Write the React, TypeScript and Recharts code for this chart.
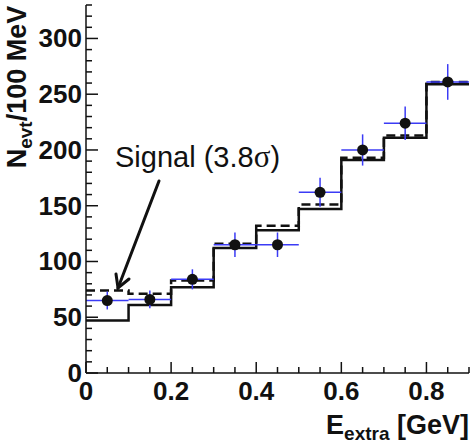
import React from "react";
import { ComposedChart, Line, Scatter, ErrorBar, XAxis, YAxis } from "recharts";

// histogram bins (E_extra, GeV)
const binEdges = [0, 0.1, 0.2, 0.3, 0.4, 0.5, 0.6, 0.7, 0.8, 0.9];
const binCenters = [0.05, 0.15, 0.25, 0.35, 0.45, 0.55, 0.65, 0.75, 0.85];
const binHalfWidth = 0.05;

// expected background (solid) and background + signal (dashed)
const background = [47, 61, 77, 112, 128, 147, 191, 211, 259];
const bgPlusSignal = [74, 71, 83, 116, 132, 151, 193, 213, 261];

// observed events with errors
const dataCounts = [65, 66, 84, 115, 115, 162, 200, 224, 261];
const dataErrors = [8, 8, 9, 11, 11, 13, 14, 15, 16];

const xTicks = [0, 0.05, 0.1, 0.15, 0.2, 0.25, 0.3, 0.35, 0.4, 0.45, 0.5, 0.55, 0.6, 0.65, 0.7, 0.75, 0.8, 0.85, 0.9];
const xTickLabels = [0, 0.2, 0.4, 0.6, 0.8];
const yTicks = [0, 10, 20, 30, 40, 50, 60, 70, 80, 90, 100, 110, 120, 130, 140, 150, 160, 170, 180, 190, 200, 210, 220, 230, 240, 250, 260, 270, 280, 290, 300, 310, 320, 330];
const yTickLabels = [0, 50, 100, 150, 200, 250, 300];

const stepRows = binEdges.map((x, i) => ({
  x,
  bg: background[Math.min(i, background.length - 1)],
  tot: bgPlusSignal[Math.min(i, bgPlusSignal.length - 1)],
}));

const points = binCenters.map((x, i) => ({
  x,
  y: dataCounts[i],
  ex: binHalfWidth,
  ey: dataErrors[i],
}));

const FONT = "'Liberation Sans', Arial, Helvetica, sans-serif";
const INK = "#111";
const BLUE = "#3b3bf5";

const XTick = (props: any) => {
  const { x, y, payload } = props;
  const major = xTickLabels.includes(payload.value);
  return (
    <g>
      <line x1={x} x2={x} y1={y} y2={y - (major ? 11 : 6)} stroke={INK} strokeWidth={1.5} />
      {major && (
        <text x={x} y={y + 27} textAnchor="middle" fontFamily={FONT} fontWeight="bold" fontSize={26} fill={INK}>
          {String(payload.value)}
        </text>
      )}
    </g>
  );
};

const YTick = (props: any) => {
  const { x, y, payload } = props;
  const major = yTickLabels.includes(payload.value);
  return (
    <g>
      <line x1={x} x2={x + (major ? 12 : 6)} y1={y} y2={y} stroke={INK} strokeWidth={1.5} />
      {major && (
        <text x={x - 4} y={y + 9} textAnchor="end" fontFamily={FONT} fontWeight="bold" fontSize={26} fill={INK}>
          {String(payload.value)}
        </text>
      )}
    </g>
  );
};

const Dot = (props: any) => <circle cx={props.cx} cy={props.cy} r={5.5} fill={INK} />;

export default function App() {
  return (
    <div style={{ position: "absolute", left: 0, top: 0, width: 472, height: 443, background: "#fff" }}>
      <ComposedChart
        width={472}
        height={443}
        data={stepRows}
        margin={{ top: 5, right: 3, left: 0, bottom: 0 }}
      >
        <XAxis
          xAxisId="top"
          orientation="top"
          type="number"
          domain={[0, 0.9]}
          height={0}
          tick={false}
          tickLine={false}
          axisLine={{ stroke: "#555", strokeWidth: 1.5 }}
        />
        <YAxis
          yAxisId="right"
          orientation="right"
          type="number"
          domain={[0, 330]}
          width={0}
          tick={false}
          tickLine={false}
          axisLine={{ stroke: "#555", strokeWidth: 1.5 }}
        />
        <XAxis
          type="number"
          dataKey="x"
          domain={[0, 0.9]}
          ticks={xTicks}
          interval={0}
          height={70}
          tickSize={0}
          tickMargin={0}
          tickLine={false}
          tick={<XTick />}
          axisLine={{ stroke: INK, strokeWidth: 1.5 }}
          allowDataOverflow
        />
        <YAxis
          type="number"
          domain={[0, 330]}
          ticks={yTicks}
          interval={0}
          width={86}
          tickSize={0}
          tickMargin={0}
          tickLine={false}
          tick={<YTick />}
          axisLine={{ stroke: INK, strokeWidth: 1.5 }}
          allowDataOverflow
        />
        <Line
          type="stepAfter"
          dataKey="tot"
          stroke={INK}
          strokeWidth={2.5}
          strokeDasharray="9 5"
          dot={false}
          activeDot={false}
          isAnimationActive={false}
        />
        <Line
          type="stepAfter"
          dataKey="bg"
          stroke={INK}
          strokeWidth={2.5}
          dot={false}
          activeDot={false}
          isAnimationActive={false}
        />
        <Scatter data={points} dataKey="y" shape={<Dot />} isAnimationActive={false}>
          <ErrorBar dataKey="ey" direction="y" width={0} stroke={BLUE} strokeWidth={1.5} />
          <ErrorBar dataKey="ex" direction="x" width={0} stroke={BLUE} strokeWidth={1.5} />
        </Scatter>
      </ComposedChart>
      <svg width={472} height={443} style={{ position: "absolute", left: 0, top: 0, pointerEvents: "none" }}>
        <text x={115} y={167} fontFamily={FONT} fontSize={29} fill={INK}>
          Signal (3.8<tspan fontFamily="'Liberation Serif', 'Times New Roman', serif" fontSize={31}>σ</tspan>)
        </text>
        <g stroke={INK} strokeWidth={3} strokeLinecap="round" fill="none">
          <line x1={159} y1={181} x2={118} y2={288} />
          <polyline points="129,279 118,288 116,274" />
        </g>
        <text
          transform="translate(26,87) rotate(-90)"
          textAnchor="middle"
          fontFamily={FONT}
          fontWeight="bold"
          fontSize={27}
          fill={INK}
        >
          N<tspan fontSize={19} dy={6}>evt</tspan>
          <tspan dy={-6}>/100 MeV</tspan>
        </text>
        <text x={469} y={434} textAnchor="end" fontFamily={FONT} fontWeight="bold" fontSize={27} fill={INK}>
          E<tspan fontSize={19} dy={6}>extra</tspan>
          <tspan dy={-6}> [GeV]</tspan>
        </text>
      </svg>
    </div>
  );
}
